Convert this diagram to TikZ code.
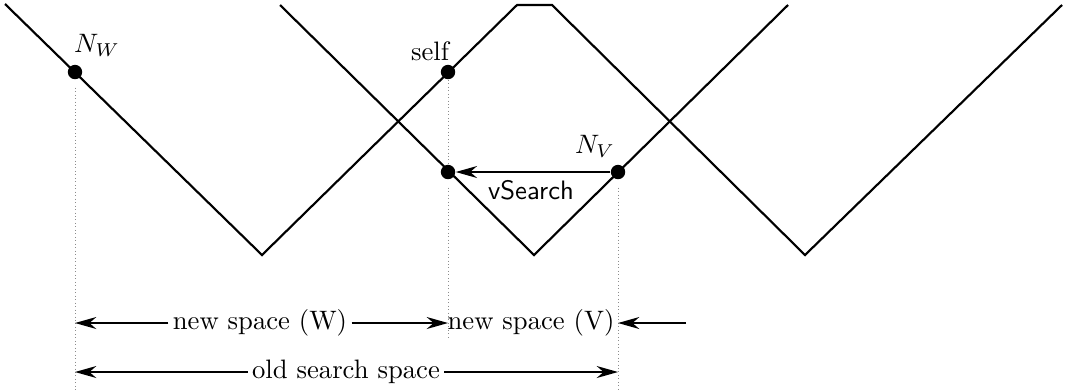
\documentclass[tikz,border=0pt]{standalone}
\usepackage{tikz}
\usetikzlibrary{arrows.meta, positioning, calc}
\definecolor{guidegray}{RGB}{140, 140, 140}

\tikzset{
  pt/.style={circle, fill=black, inner sep=0pt, minimum size=5.4pt},
  curve/.style={line width=0.8pt, line join=miter},
  guide/.style={guidegray, line width=0.3pt, densely dotted},
  dimarrow/.style={-{Stealth[length=8pt, width=4.5pt]}, line width=0.6pt},
  dimlab/.style={inner sep=1.5pt},
}

\begin{document}
\begin{tikzpicture}[x=0.375pt, y=-0.375pt]
  \useasboundingbox (0,0) rectangle (1065,391);

  % the two curves
  \draw[curve] (5,4) -- (262,255) -- (517,5) -- (552,5) -- (805,255) -- (1062,5);
  \draw[curve] (280,5) -- (534,255) -- (788,5);

  % points on the curves
  \node[pt] (nw) at (75,72) {};
  \node[pt] (self) at (448,72) {};
  \node[pt] (vl) at (448,172) {};
  \node[pt] (nv) at (618,172) {};
  \node (nwlab) at (97,45) {$N_W$};
  \node (selflab) at (430,51) {self};
  \node (nvlab) at (595,146) {$N_V$};

  % search step
  \draw[dimarrow] (nv) -- (vl);
  \node (vsearch) at (531,190) {\sffamily vSearch};

  % guide lines
  \coordinate (nwbot) at (75,391);
  \coordinate (vlbot) at (448,337);
  \coordinate (nvbot) at (618,391);
  \draw[guide, shorten <=3pt] (nw) -- (nwbot);
  \draw[guide] (self) -- (vl);
  \draw[guide, shorten <=3pt] (vl) -- (vlbot);
  \draw[guide, shorten <=3pt] (nv) -- (nvbot);

  % new spaces
  \node[dimlab] (spw) at (260,323) {new space (W)};
  \node[dimlab] (spv) at (531,323) {new space (V)};
  \coordinate (wl) at (75,323);
  \coordinate (wr) at (448,323);
  \coordinate (vr) at (618,323);
  \coordinate (vout) at (686,323);
  \draw[dimarrow] (spw) -- (wl);
  \draw[dimarrow] (spw) -- (wr);
  \draw[dimarrow] (vout) -- (vr);

  % old space
  \node[dimlab] (old) at (346,372) {old search space};
  \coordinate (ol) at (75,372);
  \coordinate (or) at (618,372);
  \draw[dimarrow] (old) -- (ol);
  \draw[dimarrow] (old) -- (or);
\end{tikzpicture}
\end{document}
